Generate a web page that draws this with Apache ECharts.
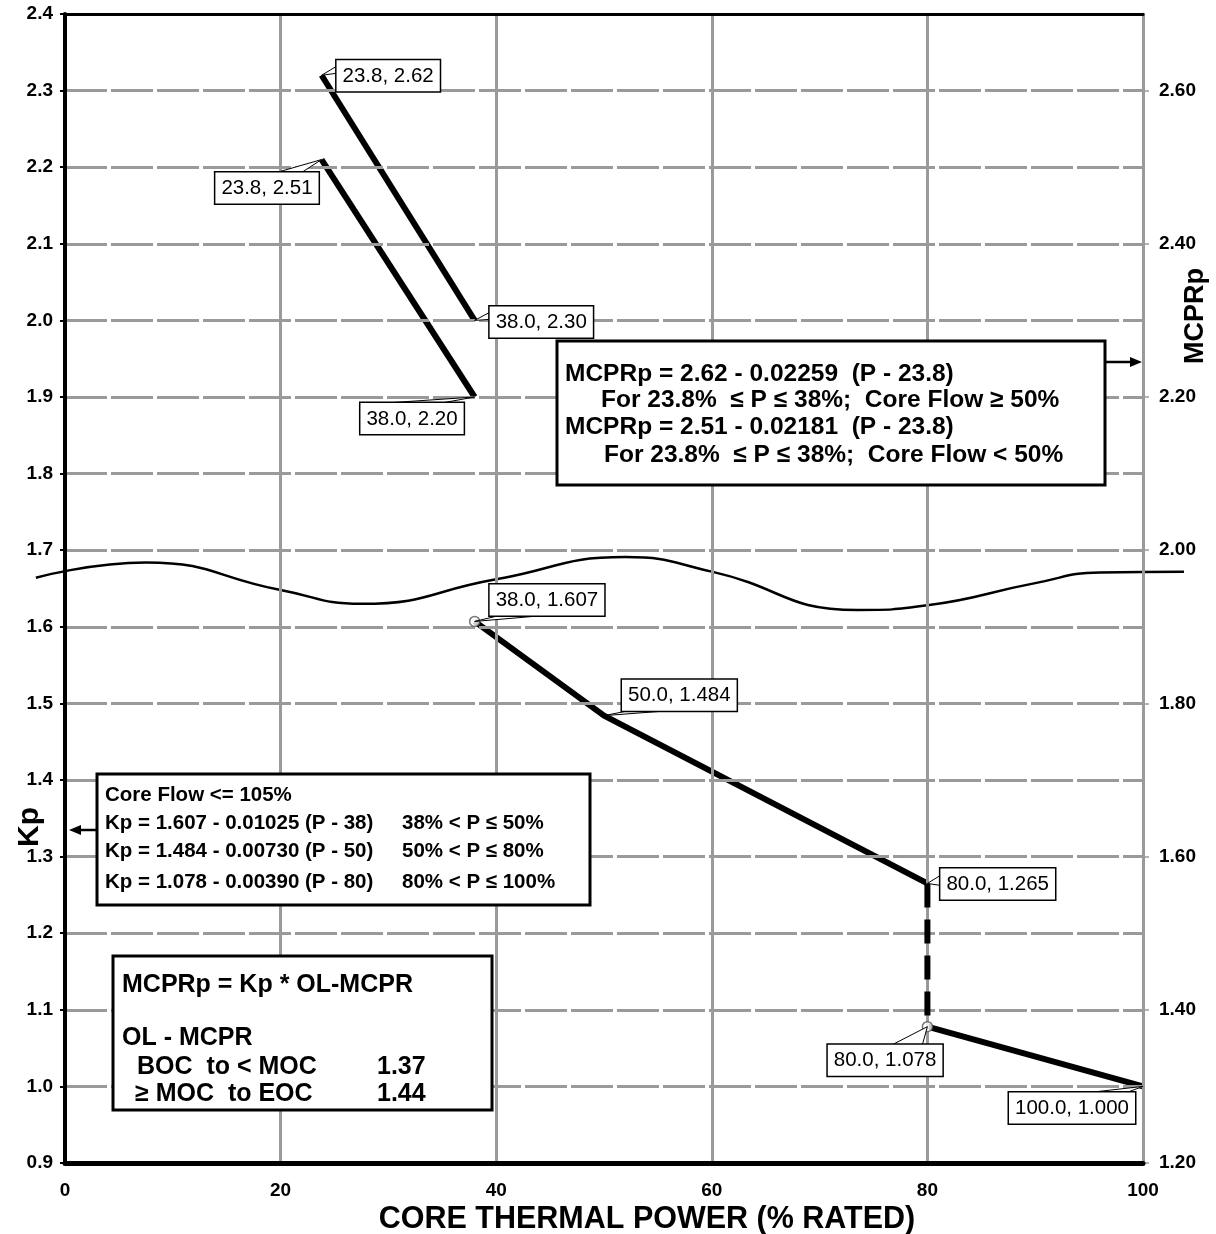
<!DOCTYPE html>
<html>
<head>
<meta charset="utf-8">
<script src="https://cdn.jsdelivr.net/npm/echarts@6/dist/echarts.min.js"></script>
<style>
html,body{margin:0;padding:0;background:#fff;}
#chart{width:1216px;height:1234px;}
</style>
</head>
<body>
<div id="chart"></div>
<script>
// ---------- data ----------
const powerRange = [0, 100];
const powerTickStep = 20;
const kpRange = [0.9, 2.4];
const kpTickStep = 0.1;
const mcprRange = [1.2, 2.7];
const mcprTickStep = 0.2;
const mcprTicks = [1.2, 1.4, 1.6, 1.8, 2.0, 2.2, 2.4, 2.6];

const mcprHighFlow = [[23.8, 2.62], [38.0, 2.30]];
const mcprLowFlow  = [[23.8, 2.51], [38.0, 2.20]];
const kpUpper = [[38.0, 1.607], [50.0, 1.484], [80.0, 1.265]];
const kpStep  = [[80.0, 1.265], [80.0, 1.078]];
const kpLower = [[80.0, 1.078], [100.0, 1.000]];
const kpOpenPoints = [[38.0, 1.607], [80.0, 1.078]];
// axis-break wave (runs a little past both axes)
const breakWave = [[-2.7, 1.664], [7.5, 1.684], [20, 1.648], [27.5, 1.630], [40, 1.662],
                   [52, 1.691], [60, 1.672], [73.5, 1.622], [80, 1.628], [90, 1.657],
                   [96, 1.671], [103.8, 1.672]];

const mcprBoxLines = [
  'MCPRp = 2.62 - 0.02259  (P - 23.8)',
  'For 23.8%  \u2264 P \u2264 38%;  Core Flow \u2265 50%',
  'MCPRp = 2.51 - 0.02181  (P - 23.8)',
  'For 23.8%  \u2264 P \u2264 38%;  Core Flow < 50%'
];
const kpBoxLeft = [
  'Core Flow <= 105%',
  'Kp = 1.607 - 0.01025 (P - 38)',
  'Kp = 1.484 - 0.00730 (P - 50)',
  'Kp = 1.078 - 0.00390 (P - 80)'
];
const kpBoxRight = ['', '38% < P \u2264 50%', '50% < P \u2264 80%', '80% < P \u2264 100%'];
const olBoxLines = ['MCPRp = Kp * OL-MCPR', 'OL - MCPR', 'BOC  to < MOC', '\u2265 MOC  to EOC'];
const olValues = ['1.37', '1.44'];

// ---------- layout ----------
const FONT = "'Liberation Sans', Arial, sans-serif";
const GRID = '#9a9a9a';
const G = {left: 65, right: 73, top: 14, bottom: 71};
const W = 1216;
const pxPerUnit = (W - G.left - G.right) / (powerRange[1] - powerRange[0]);
// a wider, invisible grid for the break wave so it can run past both axes
const G2 = {left: 35, right: 31, top: G.top, bottom: G.bottom};
const waveMin = powerRange[0] - (G.left - G2.left) / pxPerUnit;
const waveMax = powerRange[1] + (G.right - G2.right) / pxPerUnit;

const chart = echarts.init(document.getElementById('chart'), null, {renderer: 'canvas'});
const thick = {color: '#000', width: 6};
const boldLabel = {color: '#000', fontSize: 19, fontWeight: 'bold', fontFamily: FONT};

chart.setOption({
  animation: false,
  backgroundColor: '#fff',
  grid: [Object.assign({containLabel: false}, G), Object.assign({containLabel: false}, G2)],
  xAxis: [{
    type: 'value', gridIndex: 0, min: powerRange[0], max: powerRange[1], interval: powerTickStep,
    position: 'bottom', z: 5,
    axisLine: {onZero: false, lineStyle: {color: '#000', width: 5}},
    axisTick: {show: false},
    axisLabel: Object.assign({margin: 18}, boldLabel),
    splitLine: {show: true, showMinLine: false, lineStyle: {color: GRID, width: 3}}
  }, {
    type: 'value', gridIndex: 0, min: powerRange[0], max: powerRange[1], position: 'top', z: 5,
    axisLine: {onZero: false, lineStyle: {color: '#000', width: 3}},
    axisTick: {show: false}, axisLabel: {show: false}, splitLine: {show: false}
  }, {
    type: 'value', gridIndex: 1, min: waveMin, max: waveMax, show: false
  }],
  yAxis: [{
    type: 'value', gridIndex: 0, min: kpRange[0], max: kpRange[1], interval: kpTickStep, position: 'left', z: 6,
    axisLine: {show: true, onZero: false, lineStyle: {color: '#000', width: 4}},
    axisTick: {show: true, length: 5, lineStyle: {color: '#000', width: 2}},
    axisLabel: Object.assign({margin: 12, formatter: v => v.toFixed(1)}, boldLabel),
    splitLine: {show: true, showMinLine: false, showMaxLine: false,
                lineStyle: {color: GRID, width: 3, type: [42, 4]}}
  }, {
    type: 'value', gridIndex: 0, min: mcprRange[0], max: mcprRange[1], interval: mcprTickStep, position: 'right',
    axisLine: {show: true, onZero: false, lineStyle: {color: GRID, width: 3}},
    axisTick: {show: true, length: 6, customValues: mcprTicks, lineStyle: {color: GRID, width: 1.5}},
    axisLabel: Object.assign({margin: 16, customValues: mcprTicks,
                formatter: v => (Math.abs(v - mcprRange[1]) < 1e-6 ? '' : v.toFixed(2))}, boldLabel),
    splitLine: {show: false}
  }, {
    type: 'value', gridIndex: 1, min: kpRange[0], max: kpRange[1], show: false
  }],
  series: [
    {type: 'line', name: 'break', xAxisIndex: 2, yAxisIndex: 2, data: breakWave, smooth: 0.5,
     symbol: 'none', clip: false, lineStyle: {color: '#000', width: 2.5}, z: 3},
    {type: 'line', data: mcprHighFlow, yAxisIndex: 1, symbol: 'none', lineStyle: thick, z: 4},
    {type: 'line', data: mcprLowFlow, yAxisIndex: 1, symbol: 'none', lineStyle: thick, z: 4},
    {type: 'line', data: kpUpper, symbol: 'none', lineStyle: thick, z: 4},
    {type: 'line', data: kpStep, symbol: 'none', clip: false,
     lineStyle: {color: '#000', width: 6, type: 'dashed'}, z: 7},
    {type: 'line', data: kpLower, symbol: 'none', lineStyle: thick, z: 4},
    {type: 'scatter', data: kpOpenPoints, symbol: 'circle', symbolSize: 10, z: 8,
     itemStyle: {color: '#fff', borderColor: '#555', borderWidth: 1.5}}
  ]
});

// ---------- annotations (styling offsets in px) ----------
const callouts = [
  {pt: mcprHighFlow[0], ax: 1, dec: 2, align: 'left',  va: 'top',    dx: 15,  dy: -15, A: [15, -9],  B: [15, -2]},
  {pt: mcprLowFlow[0],  ax: 1, dec: 2, align: 'right', va: 'top',    dx: -3,  dy: 13,  A: [-45, 13], B: [-20, 13]},
  {pt: mcprHighFlow[1], ax: 1, dec: 2, align: 'left',  va: 'top',    dx: 15,  dy: -14, A: [15, -8],  B: [15, -1]},
  {pt: mcprLowFlow[1],  ax: 1, dec: 2, align: 'right', va: 'top',    dx: -11, dy: 6,   A: [-89, 6],  B: [-33, 6]},
  {pt: kpUpper[0],      ax: 0, dec: 3, align: 'left',  va: 'bottom', dx: 15,  dy: -6,  A: [25, -6],  B: [70, -6]},
  {pt: kpUpper[1],      ax: 0, dec: 3, align: 'left',  va: 'bottom', dx: 18,  dy: -5,  A: [25, -5],  B: [66, -5]},
  {pt: kpUpper[2],      ax: 0, dec: 3, align: 'left',  va: 'top',    dx: 13,  dy: -15, A: [13, -8],  B: [13, 2]},
  {pt: kpLower[0],      ax: 0, dec: 3, align: 'right', va: 'top',    dx: 15,  dy: 18,  A: [-35, 18], B: [-5, 18]},
  {pt: kpLower[1],      ax: 0, dec: 3, align: 'right', va: 'top',    dx: -8,  dy: 6,   A: [-53, 6],  B: [-16, 6]}
];

const g = [];
callouts.forEach(c => {
  const p = chart.convertToPixel({xAxisIndex: 0, yAxisIndex: c.ax}, c.pt);
  g.push({type: 'polygon', z: 20,
    shape: {points: [[p[0], p[1]], [p[0] + c.A[0], p[1] + c.A[1]], [p[0] + c.B[0], p[1] + c.B[1]]]},
    style: {fill: '#fff', stroke: '#000', lineWidth: 1}});
  g.push({type: 'text', z: 21, x: p[0] + c.dx, y: p[1] + c.dy,
    style: {text: c.pt[0].toFixed(1) + ', ' + c.pt[1].toFixed(c.dec),
      font: '20.5px ' + FONT, fill: '#000',
      align: c.align, textAlign: c.align, verticalAlign: c.va, textVerticalAlign: c.va,
      backgroundColor: '#fff', borderColor: '#000', borderWidth: 1.5,
      padding: [5, 6, 4, 6], lineHeight: 22}});
});

function txt(x, y, s, font, align) {
  return {type: 'text', z: 31, x: x, y: y,
    style: {text: s, font: font, fill: '#000', align: align || 'left', textAlign: align || 'left',
            verticalAlign: 'middle', textVerticalAlign: 'middle'}};
}
function box(x, y, w, h) {
  return {type: 'rect', z: 30, shape: {x: x, y: y, width: w, height: h},
    style: {fill: '#fff', stroke: '#000', lineWidth: 3}};
}
function arrow(x1, x2, y) {
  const dir = x2 > x1 ? 1 : -1;
  return [
    {type: 'line', z: 30, shape: {x1: x1, y1: y, x2: x2 - dir * 8, y2: y}, style: {stroke: '#000', lineWidth: 2.5}},
    {type: 'polygon', z: 30, shape: {points: [[x2, y], [x2 - dir * 12, y - 5], [x2 - dir * 12, y + 5]]},
     style: {fill: '#000'}}
  ];
}

const leftPx = chart.convertToPixel({xAxisIndex: 0}, powerRange[0]);
const rightPx = chart.convertToPixel({xAxisIndex: 0}, powerRange[1]);

// MCPRp equation box
g.push(box(557, 341, 548, 144));
const mb = "bold 24.5px " + FONT;
g.push(txt(565, 374, mcprBoxLines[0], mb));
g.push(txt(601, 400, mcprBoxLines[1], mb));
g.push(txt(565, 427, mcprBoxLines[2], mb));
g.push(txt(604, 455, mcprBoxLines[3], mb));
arrow(1105, rightPx - 1, 362).forEach(e => g.push(e));

// Kp equation box
g.push(box(97, 774, 493, 131));
const kb = "bold 20.5px " + FONT;
[795, 823, 851, 882].forEach((y, i) => {
  g.push(txt(105, y, kpBoxLeft[i], kb));
  if (kpBoxRight[i]) g.push(txt(402, y, kpBoxRight[i], kb));
});
arrow(97, leftPx + 4, 830).forEach(e => g.push(e));

// OL-MCPR box
g.push(box(113, 956, 379, 154));
const ob = "bold 25px " + FONT;
g.push(txt(122, 985, olBoxLines[0], ob));
g.push(txt(122, 1038, olBoxLines[1], ob));
g.push(txt(137, 1067, olBoxLines[2], ob));
g.push(txt(135, 1094, olBoxLines[3], ob));
g.push(txt(377, 1067, olValues[0], ob));
g.push(txt(377, 1094, olValues[1], ob));

// axis titles
g.push(txt(647, 1220, 'CORE THERMAL POWER (% RATED)', 'bold 30.5px ' + FONT, 'center'));
g.push({type: 'text', z: 31, x: 30, y: 827, rotation: Math.PI / 2,
  style: {text: 'Kp', font: 'bold 30px ' + FONT, fill: '#000', align: 'center', textAlign: 'center',
          verticalAlign: 'middle', textVerticalAlign: 'middle'}});
g.push({type: 'text', z: 31, x: 1196, y: 316, rotation: Math.PI / 2,
  style: {text: 'MCPRp', font: 'bold 27px ' + FONT, fill: '#000', align: 'center', textAlign: 'center',
          verticalAlign: 'middle', textVerticalAlign: 'middle'}});

chart.setOption({graphic: g});
</script>
</body>
</html>
